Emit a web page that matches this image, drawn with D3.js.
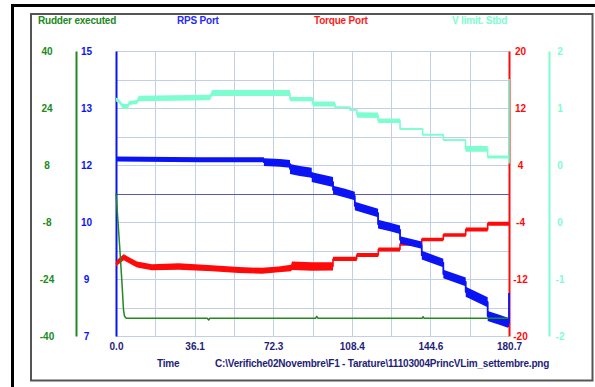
<!DOCTYPE html>
<html>
<head>
<meta charset="utf-8">
<script src="https://cdn.jsdelivr.net/npm/d3@7"></script>
<style>
  html, body { margin: 0; padding: 0; background: #ffffff; }
  svg { display: block; }
  text { font-family: "Liberation Sans", Arial, sans-serif; font-weight: bold; font-size: 10px; }
  .caption { letter-spacing: -0.2px; }
</style>
</head>
<body>
<svg id="chart" width="595" height="387"></svg>
<script>
// ---- Series: Rudder executed (deg) ----
const tRudder = [0, 0.7, 1.8, 2.8, 3.45, 3.9, 4.6, 42.0, 42.6, 43.2, 91.8, 92.3, 92.8, 140.8, 141.2, 141.6, 180.2];
const rudder  = [0, -6, -15.9, -25.7, -32.7, -34.4, -35, -35, -35.5, -35, -35, -34.5, -35, -35, -34.6, -35, -35];

// ---- Series: RPS Port ----
const tRps = [0, 38.6, 68.0, 68.0, 75.4, 80.0, 80.0, 84.5, 90.0, 90.0, 99.8, 99.8, 105.3, 109.8, 109.8, 120.5, 120.5, 126.0, 130.6, 130.6, 140.6, 140.6, 150.5, 150.5, 160.8, 160.8, 170.9, 170.9, 176.6, 180.2, 180.7, 180.7];
const rps  = [11.97, 11.95, 11.95, 11.88, 11.86, 11.83, 11.69, 11.63, 11.58, 11.46, 11.32, 11.10, 11.01, 10.93, 10.65, 10.45, 10.14, 10.06, 9.98, 9.70, 9.55, 9.27, 9.05, 8.74, 8.52, 8.24, 7.95, 7.56, 7.45, 7.37, 7.37, 8.21];
const rpsSpread = [0.07, 0.07, 0.07, 0.11, 0.11, 0.11, 0.14, 0.14, 0.14, 0.14, 0.14, 0.12, 0.12, 0.12, 0.12, 0.12, 0.12, 0.12, 0.12, 0.10, 0.10, 0.12, 0.12, 0.12, 0.12, 0.14, 0.14, 0.14, 0.14, 0.14, 0.1, 0];

// ---- Series: Torque Port ----
const tTorque = [0, 0.92, 3.54, 6.44, 9.66, 16.55, 28.83, 44.14, 56.42, 67.13, 74.81, 80.47, 80.93, 90.12, 99.78, 99.78, 110.68, 110.68, 120.61, 120.61, 130.58, 130.58, 140.56, 140.56, 150.5, 150.5, 160.8, 160.8, 170.9, 170.9, 180.7];
const torque  = [-9.9, -9.6, -8.95, -9.45, -9.95, -10.35, -10.25, -10.5, -10.75, -10.85, -10.65, -10.45, -10.15, -10.25, -10.2, -9.19, -9.19, -8.63, -8.63, -7.86, -7.86, -7.09, -7.09, -6.46, -6.46, -5.82, -5.82, -5.05, -5.05, -4.25, -4.25];
const torqueSpread = [0.35, 0.4, 0.42, 0.42, 0.42, 0.42, 0.45, 0.42, 0.42, 0.42, 0.42, 0.45, 0.6, 0.6, 0.6, 0.3, 0.3, 0.28, 0.28, 0.28, 0.28, 0.25, 0.25, 0.25, 0.25, 0.25, 0.25, 0.28, 0.28, 0.28, 0.28];

// ---- Series: V limit. Stbd ----
const tVlim = [0, 1.38, 2.30, 3.22, 5.52, 5.98, 9.66, 10.44, 43.22, 44.14, 80.0, 80.0, 90.44, 90.44, 100.7, 100.7, 107.6, 107.6, 110.8, 110.8, 120.5, 120.5, 130.6, 130.6, 141.0, 141.0, 150.5, 150.5, 160.7, 160.7, 170.9, 170.9, 180.5, 180.7, 180.7];
const vlim  = [1.319, 1.298, 1.256, 1.221, 1.221, 1.270, 1.284, 1.333, 1.347, 1.411, 1.411, 1.326, 1.326, 1.256, 1.256, 1.210, 1.210, 1.172, 1.172, 1.102, 1.098, 1.022, 1.022, 0.905, 0.905, 0.825, 0.825, 0.751, 0.751, 0.625, 0.625, 0.512, 0.512, 0.428, 1.607];
const vlimSpread = [0.028, 0.028, 0.028, 0.035, 0.035, 0.028, 0.028, 0.038, 0.038, 0.042, 0.042, 0.03, 0.03, 0.035, 0.035, 0.012, 0.012, 0.012, 0.012, 0.04, 0.04, 0.032, 0.032, 0.012, 0.012, 0.012, 0.012, 0.012, 0.012, 0.04, 0.04, 0.02, 0.02, 0, 0];

// ---- Axis domains and tick labels ----
const timeDomain = [0, 180.7];
const timeTickLabels = ["0.0", "36.1", "72.3", "108.4", "144.6", "180.7"];
const rudderDomain = [-40, 40];
const rudderTickLabels = ["-40", "-24", "-8", "8", "24", "40"];
const rpsDomain = [7, 15];
const rpsTickLabels = ["7", "9", "10", "12", "13", "15"];
const torqueDomain = [-20, 20];
const torqueTickLabels = ["-20", "-12", "-4", "4", "12", "20"];
const vlimDomain = [-2, 2];
const vlimTickLabels = ["-2", "-1", "0", "0", "1", "2"];

const seriesNames = ["Rudder executed", "RPS Port", "Torque Port", "V limit. Stbd"];

// ---- Colours ----
const cRudder = "#208a20";
const cRps = "#0a14f5";
const cTorque = "#ff0a0a";
const cVlim = "#7dfdd0";
const cNavy = "#1e1e78";

// ---- Layout ----
const plotL = 116, plotR = 509, plotT = 51, plotB = 336;

const svg = d3.select("#chart");

// outer window frame and inner panel frame
svg.append("rect").attr("x", 12.5).attr("y", 5.5).attr("width", 600).attr("height", 400)
  .attr("fill", "none").attr("stroke", "#000").attr("stroke-width", 3);
svg.append("rect").attr("x", 31).attr("y", 14).attr("width", 561.5).attr("height", 366.5)
  .attr("fill", "none").attr("stroke", "#555").attr("stroke-width", 2);

const x = d3.scaleLinear().domain(timeDomain).range([plotL, plotR]);
const yRudder = d3.scaleLinear().domain(rudderDomain).range([plotB, plotT]);
const yRps = d3.scaleLinear().domain(rpsDomain).range([plotB, plotT]);
const yTorque = d3.scaleLinear().domain(torqueDomain).range([plotB, plotT]);
const yVlim = d3.scaleLinear().domain(vlimDomain).range([plotB, plotT]);

const steps = (dom, n) => d3.range(n + 1).map(i => dom[0] + i * (dom[1] - dom[0]) / n);

// grid: 10 x 10 divisions
const grid = svg.append("g").attr("stroke", "#c3cfe5").attr("stroke-width", 1);
steps(timeDomain, 10).forEach(t => {
  grid.append("line").attr("x1", Math.round(x(t)) + 0.5).attr("x2", Math.round(x(t)) + 0.5)
    .attr("y1", plotT).attr("y2", plotB);
});
steps(rudderDomain, 10).forEach(v => {
  grid.append("line").attr("x1", plotL).attr("x2", plotR)
    .attr("y1", Math.round(yRudder(v)) + 0.5).attr("y2", Math.round(yRudder(v)) + 0.5);
});
// rudder zero line
svg.append("line").attr("x1", plotL).attr("x2", plotR)
  .attr("y1", Math.round(yRudder(0)) + 0.5).attr("y2", Math.round(yRudder(0)) + 0.5)
  .attr("stroke", "#5a5ab4").attr("stroke-width", 1.2);

// vertical axes: scale, line position, label centre, colour, labels
function vAxis(scale, lineX, labelX, color, labels) {
  const vals = steps(scale.domain(), 5);
  const g = svg.append("g")
    .attr("transform", `translate(${lineX},0)`)
    .call(d3.axisLeft(scale).tickValues(vals).tickSize(0)
      .tickFormat((d, i) => labels[i]));
  g.select(".domain").attr("stroke", color).attr("stroke-width", 2);
  g.selectAll("text")
    .attr("x", labelX - lineX).attr("dy", "0.35em")
    .attr("text-anchor", "middle").attr("fill", color)
    .style("font-family", "'Liberation Sans', Arial, sans-serif")
    .style("font-weight", "bold").style("font-size", "10px");
  return g;
}
vAxis(yRudder, 76, 47, cRudder, rudderTickLabels);
vAxis(yRps, 116, 86.5, cRps, rpsTickLabels);
vAxis(yTorque, 509, 520.5, cTorque, torqueTickLabels);
vAxis(yVlim, 549, 560, cVlim, vlimTickLabels);

// time axis labels
const xa = svg.append("g")
  .attr("transform", `translate(0,${plotB})`)
  .call(d3.axisBottom(x).tickValues(steps(timeDomain, 5)).tickSize(0)
    .tickFormat((d, i) => timeTickLabels[i]));
xa.select(".domain").remove();
xa.selectAll("text").attr("y", 13.5).attr("dy", 0).attr("fill", cNavy)
  .style("font-family", "'Liberation Sans', Arial, sans-serif")
  .style("font-weight", "bold").style("font-size", "10px");

// series drawing: noise envelope plus centre trace
function band(ts, vs, ss, scale, color, lw) {
  const data = ts.map((t, i) => ({ t, v: vs[i], s: ss ? ss[i] : 0 }));
  if (ss) {
    svg.append("path").datum(data)
      .attr("fill", color)
      .attr("d", d3.area().x(d => x(d.t)).y0(d => scale(d.v - d.s)).y1(d => scale(d.v + d.s)));
  }
  svg.append("path").datum(data)
    .attr("fill", "none").attr("stroke", color).attr("stroke-width", lw)
    .attr("stroke-linejoin", "round")
    .attr("d", d3.line().x(d => x(d.t)).y(d => scale(d.v)));
}
band(tVlim, vlim, vlimSpread, yVlim, cVlim, 1.6);
band(tTorque, torque, torqueSpread, yTorque, cTorque, 1.6);
band(tRps, rps, rpsSpread, yRps, cRps, 1.8);
band(tRudder, rudder, null, yRudder, cRudder, 1.5);

// series titles
const titleX = [38, 177, 314, 452];
const titleColors = [cRudder, "#2a2af5", "#ff1a1a", cVlim];
seriesNames.forEach((n, i) => {
  svg.append("text").attr("class", "caption")
    .attr("x", titleX[i]).attr("y", 23.5).attr("fill", titleColors[i]).text(n);
});

// footer
svg.append("text").attr("class", "caption").attr("x", 157).attr("y", 366.5).attr("fill", cNavy).text("Time");
svg.append("text").attr("class", "caption").attr("x", 215).attr("y", 366.5).attr("fill", cNavy)
  .text("C:\\Verifiche02Novembre\\F1 - Tarature\\11103004PrincVLim_settembre.png");
</script>
</body>
</html>
